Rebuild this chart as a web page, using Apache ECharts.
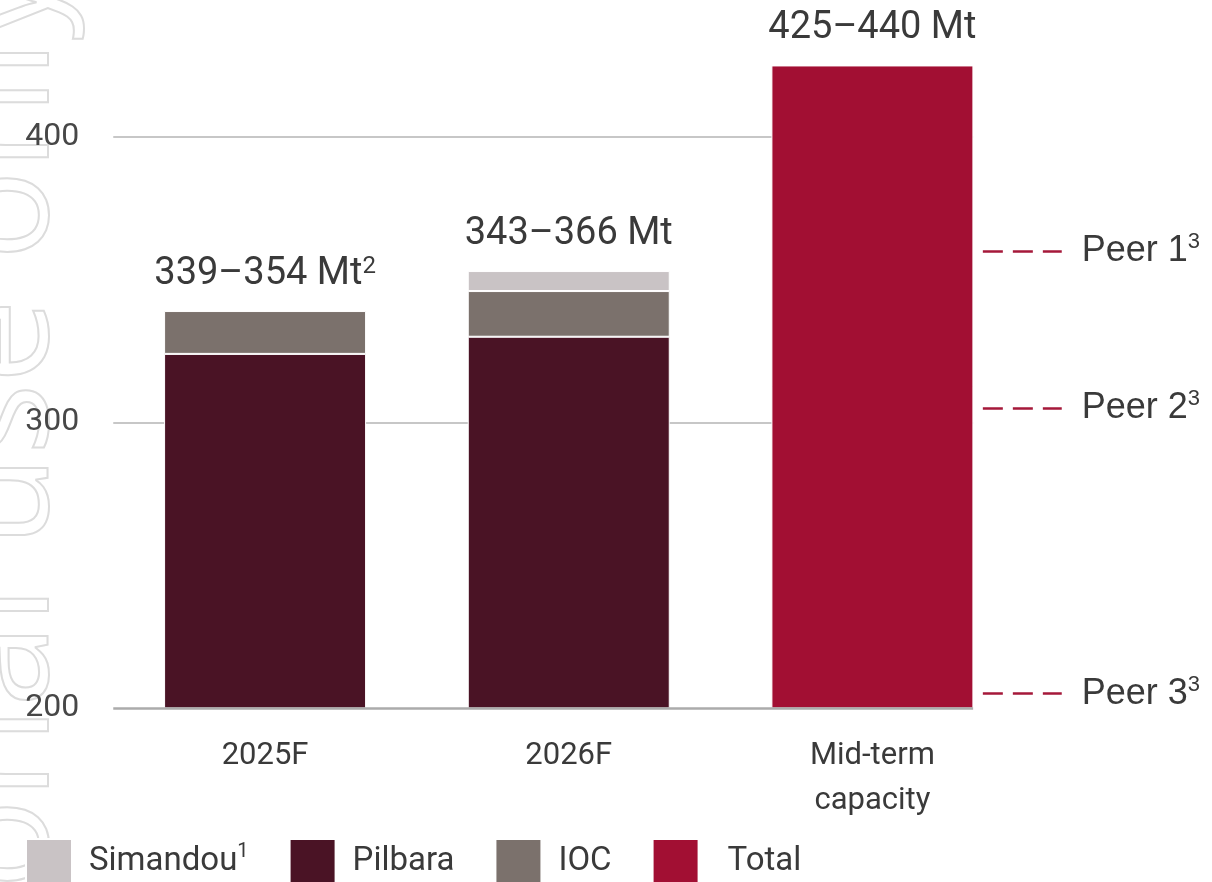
<!DOCTYPE html>
<html>
<head>
<meta charset="utf-8">
<script src="https://cdn.jsdelivr.net/npm/echarts@6/dist/echarts.min.js"></script>
<style>
  html, body { margin: 0; padding: 0; background: #fff; }
  #chart { width: 1212px; height: 882px; }
</style>
</head>
<body>
<div id="chart"></div>
<script>
// 数据
const categories = ['2025F', '2026F', 'Mid-term\ncapacity']
const pilbara = [324, 330, null]
const ioc = [15, 16, null]
const simandou = [null, 7, null]
const total = [null, null, 425]
const rangeLabels = ['339–354 Mt', '343–366 Mt', '425–440 Mt']
const rangeNotes = ['2', '', '']
const peerNames = ['Peer 1', 'Peer 2', 'Peer 3']
const peerNote = '3'
const peerValues = [360, 305, 205]
const gridValues = [300, 400]
const axisBase = 200

const textColor = '#3a3a3a'

// 每根柱子的顶部
const tops = categories.map((c, i) => {
  const sum = [pilbara, ioc, simandou, total].reduce((s, a) => s + (a[i] || 0), 0)
  return [i, sum]
})

function barStyle(color) {
  return { color: color, borderColor: '#fff', borderWidth: 1 }
}
function bar(name, data, color) {
  return {
    name: name,
    type: 'bar',
    stack: 'a',
    barWidth: 202,
    xAxisIndex: 0,
    yAxisIndex: 0,
    data: data.map(v => (v == null ? '-' : v)),
    itemStyle: barStyle(color)
  }
}

const myChart = echarts.init(document.getElementById('chart'))

const yCommon = {
  type: 'value',
  min: 200,
  max: 440,
  interval: 100,
  axisLine: { show: false },
  axisTick: { show: false },
  splitLine: { show: false }
}

const options = {
  animation: false,
  grid: [
    // 柱子用
    { left: 113.25, right: 187.75, top: 22.6, bottom: 174 },
    // 辅助线用 (全宽)
    { left: 113.25, right: 0, top: 22.6, bottom: 174 }
  ],
  legend: {
    data: ['Simandou', 'Pilbara', 'IOC', 'Total'],
    left: 25,
    top: 838,
    padding: 0,
    icon: 'rect',
    itemWidth: 46,
    itemHeight: 46,
    itemGap: 40,
    selectedMode: false,
    formatter: function (name) {
      if (name === 'Simandou') return '{n|Simandou}{s|1}'
      if (name === 'Total') return '{t|Total}'
      return '{n|' + name + '}'
    },
    textStyle: {
      padding: [0, 0, 0, 12],
      rich: {
        n: { fontFamily: 'Roboto', fontSize: 33, color: textColor, lineHeight: 40 },
        t: { fontFamily: 'Roboto', fontSize: 33, color: textColor, lineHeight: 40, padding: [0, 0, 0, 12] },
        s: { fontFamily: 'Roboto', fontSize: 20, color: textColor, verticalAlign: 'top', lineHeight: 20 }
      }
    }
  },
  xAxis: [
    {
      type: 'category',
      gridIndex: 0,
      data: categories,
      axisLine: { show: false },
      axisTick: { show: false },
      splitLine: { show: false },
      axisLabel: {
        margin: 26,
        fontFamily: 'Roboto',
        fontSize: 31,
        lineHeight: 45,
        color: textColor
      }
    },
    {
      type: 'value',
      gridIndex: 1,
      min: -0.5,
      max: 3.12,
      interval: 0.5,
      show: false
    }
  ],
  yAxis: [
    Object.assign({ gridIndex: 0, axisLabel: { show: false } }, yCommon),
    Object.assign({
      gridIndex: 1,
      axisLabel: {
        margin: 34,
        fontFamily: 'Roboto',
        fontSize: 32,
        color: '#474747',
        showMaxLabel: false
      }
    }, yCommon)
  ],
  graphic: [
    {
      type: 'text',
      x: 80,
      y: -35,
      rotation: Math.PI / 2,
      silent: true,
      z: -10,
      style: {
        text: 'For personal use only',
        font: '150px "Open Sans"',
        fill: 'none',
        stroke: '#dcdcdc',
        lineWidth: 2,
        align: 'right',
        verticalAlign: 'bottom'
      }
    }
  ],
  series: [
    bar('Pilbara', pilbara, '#4a1325'),
    bar('IOC', ioc, '#7b716c'),
    bar('Simandou', simandou, '#c9c3c5'),
    bar('Total', total, '#a20f33'),
    // 柱顶标签
    {
      name: 'labels',
      type: 'scatter',
      xAxisIndex: 0,
      yAxisIndex: 0,
      data: tops,
      symbolSize: 1,
      itemStyle: { color: '#fff', opacity: 1 },
      z: 3,
      label: {
        show: true,
        position: 'top',
        distance: 16,
        color: textColor,
        formatter: p => '{m|' + rangeLabels[p.dataIndex] + '}' +
          (rangeNotes[p.dataIndex] ? '{s|' + rangeNotes[p.dataIndex] + '}' : ''),
        rich: {
          m: { fontFamily: 'Roboto', fontSize: 38, color: textColor, lineHeight: 40 },
          s: { fontFamily: 'Roboto', fontSize: 24, color: textColor, verticalAlign: 'top', lineHeight: 24 }
        }
      }
    },
    // 网格线 (在柱子下面)
    {
      name: 'grid',
      type: 'line',
      xAxisIndex: 1,
      yAxisIndex: 1,
      data: [],
      markLine: {
        silent: true,
        symbol: 'none',
        z: 1,
        label: { show: false },
        lineStyle: { type: 'solid', color: '#b5b5b5', width: 1.5 },
        data: gridValues.map(v => [{ coord: [-0.5, v] }, { coord: [2.333, v] }])
      }
    },
    // 底线 + peer 线
    {
      name: 'guides',
      type: 'line',
      xAxisIndex: 1,
      yAxisIndex: 1,
      data: [],
      markLine: {
        silent: true,
        symbol: 'none',
        z: 5,
        data: [
          [
            { coord: [-0.5, axisBase], lineStyle: { type: 'solid', color: '#ababab', width: 2.5 }, label: { show: false } },
            { coord: [2.333, axisBase] }
          ]
        ].concat(peerValues.map((v, i) => [
          {
            coord: [2.365, v],
            name: peerNames[i],
            lineStyle: { type: [20, 10], color: '#a5183a', width: 2.5 },
            label: {
              show: true,
              position: 'end',
              distance: 20,
              formatter: '{p|{b}}{s|' + peerNote + '}',
              rich: {
                p: { fontFamily: 'Liberation Sans', fontSize: 36, color: textColor, lineHeight: 40 },
                s: { fontFamily: 'Liberation Sans', fontSize: 22, color: textColor, verticalAlign: 'top', lineHeight: 22 }
              }
            }
          },
          { coord: [2.625, v] }
        ]))
      }
    }
  ]
}

myChart.setOption(options)
</script>
</body>
</html>
